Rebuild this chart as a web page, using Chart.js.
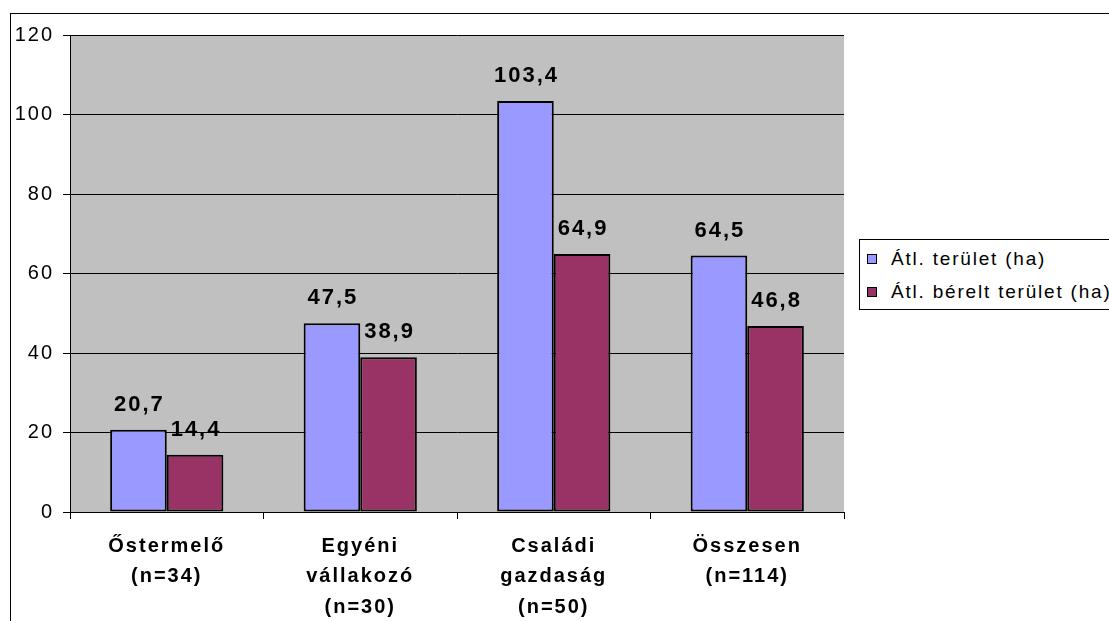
<!DOCTYPE html>
<html>
<head>
<meta charset="utf-8">
<script src="https://cdn.jsdelivr.net/npm/chart.js@4"></script>
<style>
  body { margin: 0; background: #fff; overflow: hidden; font-family: "Liberation Sans", Arial, sans-serif; }
  #frame { position: absolute; left: 10px; top: 13px; width: 1200px; height: 700px; border: 1px solid #000; }
  #chart { position: absolute; left: 11px; top: 14px; }
  #legend { position: absolute; left: 859px; top: 239px; width: 300px; height: 69px; border: 1px solid #000; background: #fff; }
  #legend div { position: absolute; left: 7px; font-size: 19px; letter-spacing: 1.8px; line-height: 22px; white-space: nowrap; }
  #legend span { display: inline-block; width: 8px; height: 8px; border: 1px solid #000; margin-right: 14px; vertical-align: 1px; }
</style>
</head>
<body>
<div id="frame"></div>
<canvas id="chart" width="840" height="608"></canvas>
<div id="legend"></div>
<script>
const categories = [
  ['Őstermelő', '(n=34)'],
  ['Egyéni', 'vállakozó', '(n=30)'],
  ['Családi', 'gazdaság', '(n=50)'],
  ['Összesen', '(n=114)']
];
const seriesNames = ['Átl. terület (ha)', 'Átl. bérelt terület (ha)'];
const avgArea = [20.7, 47.5, 103.4, 64.5];
const avgRented = [14.4, 38.9, 64.9, 46.8];
const colors = ['#9999FF', '#993366'];
const yMin = 0, yMax = 120, yStep = 20;

const FONT = '"Liberation Sans", Arial, sans-serif';

// grey plot background + Excel-like spacing of letters
const plotBg = {
  id: 'plotBg',
  beforeUpdate(chart) { chart.ctx.letterSpacing = '2px'; },
  beforeDraw(chart) {
    const { ctx, chartArea: a } = chart;
    ctx.letterSpacing = '2px';
    ctx.save();
    ctx.fillStyle = '#C0C0C0';
    ctx.fillRect(a.left, a.top, a.right - a.left, a.bottom - a.top);
    ctx.restore();
  }
};

// value labels above the bars
const valueLabels = {
  id: 'valueLabels',
  afterDatasetsDraw(chart) {
    const ctx = chart.ctx;
    ctx.save();
    ctx.font = 'bold 22px ' + FONT;
    ctx.fillStyle = '#000';
    ctx.textAlign = 'center';
    ctx.textBaseline = 'alphabetic';
    chart.data.datasets.forEach((ds, i) => {
      chart.getDatasetMeta(i).data.forEach((bar, j) => {
        ctx.fillText(ds.data[j].toFixed(1).replace('.', ','), bar.x + 1, bar.y - 19);
      });
    });
    ctx.restore();
  }
};

new Chart(document.getElementById('chart'), {
  type: 'bar',
  data: {
    labels: categories,
    datasets: [
      { label: seriesNames[0], data: avgArea, backgroundColor: colors[0] },
      { label: seriesNames[1], data: avgRented, backgroundColor: colors[1] }
    ]
  },
  options: {
    responsive: false,
    animation: false,
    layout: { padding: { top: 19, right: 7, left: 0, bottom: 0 } },
    datasets: {
      bar: { categoryPercentage: 0.585, barPercentage: 1, borderColor: '#000', borderWidth: 2, borderSkipped: false }
    },
    plugins: {
      legend: { display: false },
      tooltip: { enabled: false }
    },
    scales: {
      x: {
        offset: true,
        grid: { offset: true, drawOnChartArea: false, drawTicks: true, tickLength: 7, color: '#000' },
        border: { display: true, color: '#000', width: 1 },
        ticks: { color: '#000', padding: 12, maxRotation: 0, font: { family: FONT, size: 20, weight: 'bold', lineHeight: 1.52 } },
        afterFit(s) { s.height = 110; }
      },
      y: {
        min: yMin, max: yMax,
        grid: { color: '#000', lineWidth: 1, drawTicks: true, tickLength: 7 },
        border: { display: true, color: '#000', width: 1 },
        ticks: { stepSize: yStep, color: '#000', padding: 9, font: { family: FONT, size: 20 } },
        afterFit(s) { s.width = 59; }
      }
    }
  },
  plugins: [plotBg, valueLabels]
});

// legend built from the same series
const legend = document.getElementById('legend');
seriesNames.forEach((name, i) => {
  const row = document.createElement('div');
  row.style.top = (8 + i * 33) + 'px';
  row.innerHTML = '<span style="background:' + colors[i] + '"></span>' + name;
  legend.appendChild(row);
});
</script>
</body>
</html>
